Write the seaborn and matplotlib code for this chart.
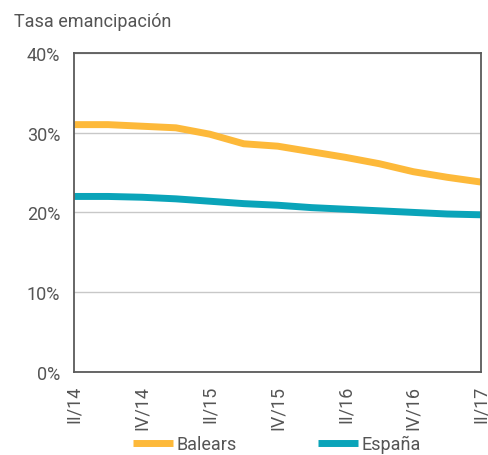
import pandas as pd
import matplotlib.pyplot as plt
import seaborn as sns
from matplotlib.ticker import FuncFormatter

# ---------------------------------------------------------------------------
# Data: tasa de emancipacion por trimestre (II/14 - II/17)
# ---------------------------------------------------------------------------
quarters = ["II/14", "III/14", "IV/14", "I/15", "II/15", "III/15", "IV/15",
            "I/16", "II/16", "III/16", "IV/16", "I/17", "II/17"]
balears = [31.0, 31.0, 30.8, 30.6, 29.8, 28.6, 28.3, 27.6, 26.9, 26.1, 25.1, 24.4, 23.8]
espana = [22.0, 22.0, 21.9, 21.7, 21.4, 21.1, 20.9, 20.6, 20.4, 20.2, 20.0, 19.8, 19.7]

series_names = ["Balears", "España"]
colors = ["#FDB93A", "#0AA4B9"]

df = pd.DataFrame({
    "idx": list(range(len(quarters))) * 2,
    "valor": balears + espana,
    "serie": [series_names[0]] * len(quarters) + [series_names[1]] * len(quarters),
})

sns.set_style("white")
plt.rcParams["font.family"] = ["Roboto", "DejaVu Sans"]
text_col = "#555555"
frame_col = "#5a5a5a"

fig = plt.figure(figsize=(4.88, 4.56), dpi=100)
ax = fig.add_axes([0.152, 0.182, 0.834, 0.700])

sns.lineplot(data=df, x="idx", y="valor", hue="serie", palette=colors,
             linewidth=5, ax=ax, solid_capstyle="butt")

ax.set_xlim(0, len(quarters) - 1)
ax.set_ylim(0, 40)
ax.set_yticks([0, 10, 20, 30, 40])
ax.yaxis.set_major_formatter(FuncFormatter(lambda v, p: f"{v:.0f}%"))
ax.set_xticks(range(len(quarters)))
ax.set_xticklabels([q if i % 2 == 0 else "" for i, q in enumerate(quarters)],
                   rotation=90)
ax.grid(axis="y", color="#c8c8c8", linewidth=1)
ax.set_axisbelow(True)

for s in ax.spines.values():
    s.set_visible(True)
    s.set_color(frame_col)
    s.set_linewidth(1.3)

ax.tick_params(axis="both", direction="out", length=6, width=1.3,
               color=frame_col, labelcolor=text_col, labelsize=13, pad=3)
ax.tick_params(axis="y", pad=4)
ax.set_xlabel("")
ax.set_ylabel("")

fig.text(0.029, 0.952, "Tasa emancipación", fontsize=13, color=text_col,
         ha="left", va="center")

handles, labels = ax.get_legend_handles_labels()
ax.legend_.remove()
fig.legend(handles, labels, loc="center", bbox_to_anchor=(0.568, 0.024),
           ncol=2, frameon=False, fontsize=13, labelcolor=text_col,
           handlelength=2.2, handletextpad=0.2, columnspacing=4.5,
           borderpad=0, borderaxespad=0)

fig.savefig("out.png", dpi=100)
